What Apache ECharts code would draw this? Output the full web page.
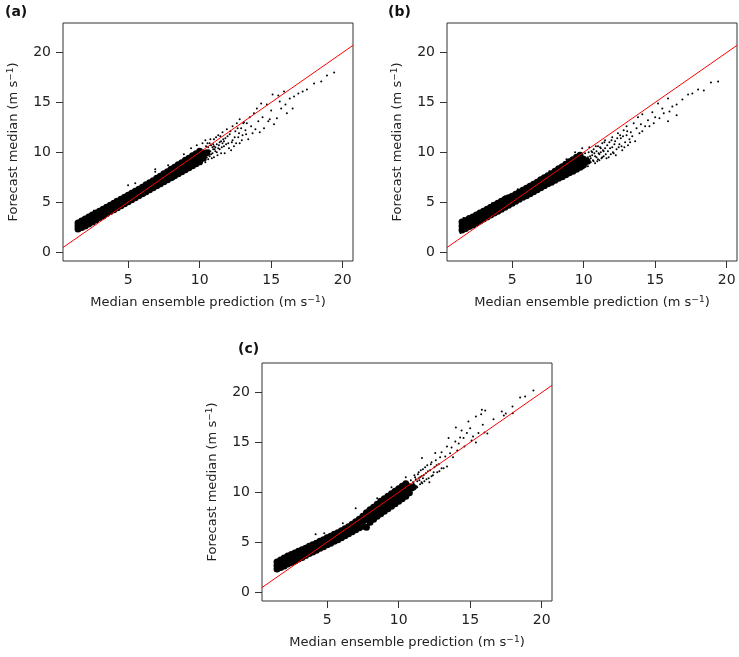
<!DOCTYPE html>
<html lang="en">
<head>
    <meta charset="UTF-8">
    <title>Forecast median vs median ensemble prediction</title>
    <script src="https://cdn.jsdelivr.net/npm/echarts@6/dist/echarts.min.js"></script>
    <style>
        body { margin: 0; background: #fff; }
        #chart { width: 739px; height: 657px; }
    </style>
</head>
<body>
    <div id="chart"></div>
    <script>
        // axis limits and ticks (same for all three panels)
        const xLimits = [0.45, 20.72];
        const yLimits = [-0.9, 22.96];
        const xTicks = [5, 10, 15, 20];
        const yTicks = [0, 5, 10, 15, 20];
        const panelLabels = ['(a)', '(b)', '(c)'];

        // dense part of each cloud: [x, y1, y2, ...]
        const coreA = [
            [1.5, 2.3, 2.6, 2.9], [1.75, 2.45, 2.8, 3.1], [2.0, 2.6, 2.95, 3.3], [2.25, 2.8, 3.15, 3.5],
            [2.5, 3.0, 3.35, 3.7], [2.75, 3.2, 3.55, 3.9], [3.0, 3.45, 3.75, 4.1], [3.25, 3.6, 3.95, 4.3],
            [3.5, 3.85, 4.15, 4.5], [3.75, 4.05, 4.4, 4.7], [4.0, 4.25, 4.6, 4.9], [4.25, 4.45, 4.8, 5.1],
            [4.5, 4.65, 5.0, 5.3], [4.75, 4.85, 5.2, 5.5], [5.0, 5.05, 5.4, 5.7], [5.25, 5.25, 5.6, 5.9],
            [5.5, 5.45, 5.8, 6.1], [5.75, 5.65, 6.0, 6.3], [6.0, 5.85, 6.2, 6.5], [6.25, 6.05, 6.4, 6.75],
            [6.5, 6.25, 6.6, 6.95], [6.75, 6.45, 6.8, 7.15], [7.0, 6.65, 7.0, 7.4], [7.25, 6.85, 7.2, 7.6],
            [7.5, 7.05, 7.45, 7.85], [7.75, 7.25, 7.65, 8.05], [8.0, 7.45, 7.85, 8.3], [8.25, 7.65, 8.05, 8.5],
            [8.5, 7.85, 8.3, 8.75], [8.75, 8.05, 8.5, 8.95], [9.0, 8.25, 8.7, 9.2], [9.25, 8.45, 8.9, 9.4],
            [9.5, 8.65, 9.1, 9.65], [9.75, 8.85, 9.35, 9.85], [10.0, 9.05, 9.55, 10.1], [10.25, 9.4, 9.9],
            [10.5, 9.95]
        ];
        const coreB = [
            [1.5, 2.2, 2.6, 3.0], [1.75, 2.35, 2.75, 3.15], [2.0, 2.55, 2.95, 3.35], [2.25, 2.7, 3.1, 3.5],
            [2.5, 2.9, 3.3, 3.7], [2.75, 3.1, 3.5, 3.9], [3.0, 3.3, 3.7, 4.1], [3.25, 3.5, 3.9, 4.3],
            [3.5, 3.7, 4.1, 4.5], [3.75, 3.9, 4.3, 4.7], [4.0, 4.1, 4.5, 4.9], [4.25, 4.3, 4.7, 5.1],
            [4.5, 4.5, 4.9, 5.3], [4.75, 4.7, 5.1, 5.45], [5.0, 4.9, 5.25, 5.6], [5.25, 5.1, 5.45, 5.8],
            [5.5, 5.3, 5.65, 6.0], [5.75, 5.5, 5.85, 6.2], [6.0, 5.65, 6.05, 6.4], [6.25, 5.85, 6.25, 6.6],
            [6.5, 6.05, 6.45, 6.8], [6.75, 6.25, 6.65, 7.0], [7.0, 6.45, 6.85, 7.25], [7.25, 6.65, 7.05, 7.45],
            [7.5, 6.85, 7.25, 7.65], [7.75, 7.0, 7.45, 7.85], [8.0, 7.2, 7.65, 8.1], [8.25, 7.4, 7.85, 8.35],
            [8.5, 7.55, 8.05, 8.55], [8.75, 7.75, 8.25, 8.8], [9.0, 7.95, 8.45, 9.05], [9.25, 8.1, 8.65, 9.25],
            [9.5, 8.3, 8.85, 9.5], [9.75, 8.5, 9.05, 9.7], [10.0, 8.75, 9.3], [10.25, 9.1]
        ];
        const coreC = [
            [1.5, 2.3, 2.65, 3.0], [1.75, 2.45, 2.85, 3.2], [2.0, 2.6, 3.0, 3.4], [2.25, 2.8, 3.2, 3.6],
            [2.5, 2.95, 3.35, 3.75], [2.75, 3.1, 3.5, 3.9], [3.0, 3.3, 3.7, 4.1], [3.25, 3.45, 3.85, 4.25],
            [3.5, 3.65, 4.05, 4.4], [3.75, 3.85, 4.2, 4.6], [4.0, 4.0, 4.4, 4.75], [4.25, 4.2, 4.55, 4.9],
            [4.5, 4.4, 4.75, 5.1], [4.75, 4.55, 4.9, 5.25], [5.0, 4.75, 5.1, 5.45], [5.25, 4.9, 5.25, 5.6],
            [5.5, 5.1, 5.45, 5.8], [5.75, 5.25, 5.6, 5.95], [6.0, 5.45, 5.8, 6.15], [6.25, 5.65, 6.0, 6.35],
            [6.5, 5.85, 6.2, 6.55], [6.75, 6.05, 6.4, 6.8], [7.0, 6.25, 6.6, 7.05], [7.25, 6.45, 6.85, 7.3],
            [7.5, 6.6, 7.1, 7.6], [7.75, 6.5, 7.3, 7.95], [8.0, 7.0, 7.6, 8.25], [8.25, 7.3, 7.9, 8.5],
            [8.5, 7.6, 8.15, 8.8], [8.75, 7.85, 8.45, 9.1], [9.0, 8.1, 8.7, 9.35], [9.25, 8.35, 8.95, 9.6],
            [9.5, 8.6, 9.2, 9.85], [9.75, 8.85, 9.45, 10.1], [10.0, 9.1, 9.7, 10.35], [10.25, 9.35, 9.95, 10.6],
            [10.5, 9.6, 10.2, 10.85], [10.75, 9.95, 10.55], [11.0, 10.5]
        ];

        // scattered points: [x, y]
        const tailA = [
            [10.6, 9.3], [10.7, 10.9], [10.8, 9.8], [10.9, 10.5], [11.0, 11.3], [11.0, 9.5], [11.1, 10.1], [11.2, 10.8],
            [11.3, 11.7], [11.4, 10.3], [11.5, 11.1], [11.5, 9.9], [11.6, 12.0], [11.7, 10.6], [11.8, 11.4], [11.9, 12.3],
            [12.0, 10.9], [12.1, 11.8], [12.2, 10.2], [12.3, 12.6], [12.3, 11.2], [12.4, 10.6], [12.5, 12.1], [12.6, 12.9],
            [12.7, 11.5], [12.8, 13.3], [12.8, 10.9], [12.9, 12.4], [13.0, 11.7], [13.1, 13.0], [13.2, 12.2], [13.3, 12.9],
            [13.4, 11.3], [13.5, 13.5], [13.6, 12.6], [13.7, 11.9], [13.8, 13.9], [13.9, 12.3], [14.0, 14.4], [14.1, 13.1],
            [14.2, 12.0], [14.3, 14.9], [14.4, 13.5], [14.5, 12.4], [14.7, 14.8], [14.8, 13.1], [14.9, 13.3], [15.0, 14.2],
            [15.1, 15.8], [15.2, 12.8], [15.4, 13.4], [15.5, 15.7], [15.6, 15.1], [15.7, 14.4], [15.9, 16.1], [16.0, 14.8],
            [16.1, 13.9], [16.3, 15.4], [16.5, 14.4], [16.6, 15.6], [16.9, 15.9], [17.2, 16.1], [17.5, 16.3], [18.0, 16.9],
            [18.5, 17.1], [18.9, 17.7], [19.4, 18.0],
            [10.55, 10.9], [10.65, 10.2], [10.75, 11.3], [10.85, 9.4], [10.95, 10.8], [11.05, 10.3], [11.15, 11.5],
            [11.25, 9.7], [11.35, 10.7], [11.45, 11.6], [11.55, 10.5], [11.65, 11.3], [11.75, 9.9], [11.85, 10.8],
            [11.95, 11.6], [12.05, 10.4], [12.15, 12.1], [12.25, 11.0], [12.45, 11.5], [12.55, 10.9], [12.65, 12.4],
            [12.75, 11.9], [12.95, 11.2], [13.05, 12.9], [13.25, 11.8],
            [10.4, 9.2], [10.45, 10.6], [10.5, 9.5], [10.6, 10.5], [10.7, 9.6], [10.75, 10.1], [10.8, 10.7], [10.9, 9.9],
            [10.95, 10.3], [11.0, 10.6], [11.1, 10.5], [11.2, 10.0], [11.3, 10.4], [11.4, 11.0], [11.6, 10.9], [11.7, 11.1],
            [2.6, 4.15], [5.0, 6.7], [5.5, 6.9], [6.9, 8.3], [6.9, 8.06], [3.4, 4.7], [4.1, 5.3], [7.8, 8.7], [8.9, 9.8],
            [9.4, 10.4], [9.8, 10.7], [10.2, 10.9], [10.4, 11.2], [8.2, 7.3], [9.0, 8.0], [9.6, 8.5], [10.1, 8.8], [10.4, 9.0],
            [1.4, 2.4], [1.5, 2.2], [1.7, 2.3], [2.3, 3.75], [3.0, 4.3], [7.3, 6.6], [6.2, 5.75]
        ];
        const tailB = [
            [10.4, 10.5], [10.5, 9.0], [10.6, 9.7], [10.7, 10.3], [10.8, 8.9], [10.9, 9.5], [11.0, 10.6], [11.1, 9.2],
            [11.2, 10.0], [11.3, 10.9], [11.4, 9.6], [11.5, 10.4], [11.5, 11.2], [11.6, 9.4], [11.7, 10.1], [11.8, 11.0],
            [11.9, 9.8], [12.0, 11.5], [12.0, 10.5], [12.1, 9.9], [12.2, 11.1], [12.3, 10.3], [12.4, 11.9], [12.5, 10.8],
            [12.6, 11.4], [12.7, 10.2], [12.8, 12.2], [12.9, 11.0], [13.0, 11.7], [13.0, 12.6], [13.1, 10.7], [13.2, 11.3],
            [13.3, 12.0], [13.4, 11.6], [13.5, 12.9], [13.6, 11.1], [13.7, 12.4], [13.8, 13.5], [13.9, 11.9], [14.0, 12.8],
            [14.1, 12.1], [14.1, 13.8], [14.3, 12.6], [14.5, 13.2], [14.6, 12.6], [14.8, 14.0], [14.9, 12.9], [15.0, 13.5],
            [15.2, 14.9], [15.3, 13.4], [15.5, 14.4], [15.6, 13.9], [15.9, 15.4], [16.0, 14.1], [15.9, 13.1], [16.2, 14.6],
            [16.5, 14.8], [16.5, 13.7], [16.9, 15.3], [17.3, 15.8], [17.6, 15.9], [18.0, 16.3], [18.4, 16.2], [18.9, 17.0],
            [19.4, 17.1],
            [10.45, 9.6], [10.55, 10.1], [10.65, 9.2], [10.75, 9.9], [10.85, 10.6], [10.95, 9.1], [11.05, 9.9],
            [11.15, 10.5], [11.25, 9.4], [11.35, 10.2], [11.45, 11.0], [11.55, 9.8], [11.65, 10.7], [11.75, 9.5],
            [11.85, 10.4], [11.95, 11.2], [12.05, 10.0], [12.15, 10.8], [12.25, 9.7], [12.35, 11.4], [12.45, 10.5],
            [12.55, 11.7], [12.65, 10.6], [12.75, 11.6], [12.85, 10.5], [13.05, 12.1], [13.25, 11.0],
            [10.1, 9.9], [10.2, 8.8], [10.3, 9.5], [10.35, 10.0], [10.4, 8.9], [10.5, 9.4], [10.6, 10.0], [10.7, 9.1],
            [10.8, 9.6], [10.9, 10.1], [11.0, 9.3], [11.1, 9.8], [11.2, 10.4], [11.3, 9.5], [11.4, 10.1],
            [1.4, 1.9], [1.5, 2.1], [1.6, 3.4], [2.2, 3.7], [3.6, 4.9], [4.5, 5.6], [5.4, 6.3], [7.6, 8.1], [8.8, 9.3],
            [9.4, 10.0], [9.9, 10.4], [9.5, 8.1], [9.0, 7.7], [10.0, 8.4], [8.4, 7.3], [10.3, 8.6]
        ];
        const tailC = [
            [11.1, 11.7], [11.2, 10.4], [11.3, 11.1], [11.4, 12.0], [11.5, 10.8], [11.6, 11.6], [11.63, 13.43], [11.7, 12.3],
            [11.8, 11.1], [11.9, 11.9], [12.0, 12.7], [12.1, 11.4], [12.2, 12.2], [12.3, 13.0], [12.4, 11.7], [12.5, 12.5],
            [12.56, 13.93], [12.6, 13.2], [12.7, 12.0], [12.8, 12.8], [12.9, 13.5], [13.0, 12.4], [13.14, 12.42], [13.26, 13.59],
            [13.38, 12.58], [13.38, 14.59], [13.49, 15.43], [13.6, 13.9], [13.7, 14.5], [13.8, 13.5], [13.96, 15.09], [14.1, 14.2],
            [14.2, 14.9], [14.3, 15.5], [14.54, 15.43], [14.6, 14.6], [14.77, 15.93], [14.88, 17.1], [15.0, 16.43], [15.1, 15.2],
            [15.2, 15.6], [15.4, 17.6], [15.58, 15.93], [15.77, 17.83], [15.82, 18.27], [15.88, 16.76], [16.05, 18.2], [16.2, 15.9],
            [16.63, 17.33], [17.21, 18.1], [17.35, 17.7], [17.49, 17.9], [17.96, 18.6], [17.98, 17.93], [18.49, 19.5], [18.84, 19.6],
            [19.42, 20.2], [14.0, 16.5], [14.4, 16.2], [13.0, 14.0], [12.3, 11.6], [15.4, 15.0], [16.0, 16.0],
            [11.05, 10.9], [11.15, 11.5], [11.25, 10.6], [11.35, 11.8], [11.45, 11.2], [11.55, 12.2], [11.65, 10.9],
            [11.75, 11.7], [11.85, 12.5], [11.95, 11.3], [12.05, 12.1], [12.15, 11.0], [12.25, 12.8], [12.45, 12.0],
            [12.65, 12.7], [12.85, 12.1],
            [10.8, 10.0], [10.85, 11.2], [10.9, 10.4], [11.0, 11.0], [11.0, 10.2], [11.1, 10.7], [11.2, 11.3], [11.3, 10.5],
            [11.4, 11.4], [11.5, 11.5], [11.6, 11.0], [11.7, 11.4],
            [4.2, 5.8], [7.0, 8.4], [6.1, 6.9], [4.8, 5.9], [1.4, 2.3], [1.6, 2.2], [7.7, 6.4], [7.6, 6.5], [9.5, 10.5],
            [10.5, 11.5], [8.5, 9.4]
        ];

        // 把 [x, y1, y2, ...] 拆成点
        function expand(rows) {
            const pts = [];
            rows.forEach(r => {
                for (let i = 1; i < r.length; i++) pts.push([r[0], r[i]]);
            });
            return pts;
        }

        const cores = [coreA, coreB, coreC];
        const tails = [tailA, tailB, tailC];
        const grids = [
            { left: 63, top: 23, width: 290, height: 238 },
            { left: 447, top: 23, width: 290, height: 238 },
            { left: 262, top: 363, width: 290, height: 238 }
        ];

        const font = 'DejaVu Sans';
        const textColor = '#222';
        const rich = {
            t: { fontFamily: font, fontSize: 13, color: textColor, lineHeight: 16 },
            s: { fontFamily: font, fontSize: 9, color: textColor, lineHeight: 10, verticalAlign: 'top' }
        };

        const option = {
            animation: false,
            backgroundColor: '#fff',
            title: grids.map((g, i) => ({
                text: panelLabels[i],
                left: i === 0 ? 0 : (i === 1 ? 383 : 233),
                top: i === 2 ? 337 : 0,
                textStyle: { fontFamily: font, fontSize: 14, fontWeight: 'bold', color: '#111' }
            })),
            grid: grids.map(g => Object.assign({
                show: true, borderColor: '#333', borderWidth: 1, backgroundColor: 'transparent'
            }, g)),
            xAxis: grids.map((g, i) => ({
                gridIndex: i,
                type: 'value',
                min: xLimits[0],
                max: xLimits[1],
                axisLine: { show: false, onZero: false },
                axisTick: { show: true, inside: false, length: 7, customValues: xTicks, lineStyle: { color: '#333' } },
                axisLabel: { customValues: xTicks, margin: 12, fontFamily: font, fontSize: 14, color: textColor },
                splitLine: { show: false },
                name: '{t|Median ensemble prediction (m s}{s|−1}{t|)}',
                nameLocation: 'middle',
                nameGap: 34,
                nameTextStyle: { rich: rich }
            })),
            yAxis: grids.map((g, i) => ({
                gridIndex: i,
                type: 'value',
                min: yLimits[0],
                max: yLimits[1],
                axisLine: { show: false, onZero: false },
                axisTick: { show: true, inside: false, length: 7, customValues: yTicks, lineStyle: { color: '#333' } },
                axisLabel: { customValues: yTicks, margin: 12, fontFamily: font, fontSize: 14, color: textColor },
                splitLine: { show: false },
                name: '{t|Forecast median (m s}{s|−1}{t|)}',
                nameLocation: 'middle',
                nameGap: 41,
                nameTextStyle: { rich: rich }
            })),
            series: []
        };

        for (let i = 0; i < 3; i++) {
            option.series.push({
                type: 'scatter', xAxisIndex: i, yAxisIndex: i,
                data: expand(cores[i]),
                symbol: 'circle', symbolSize: 7,
                itemStyle: { color: '#000', opacity: 1 },
                silent: true
            });
            option.series.push({
                type: 'scatter', xAxisIndex: i, yAxisIndex: i,
                data: tails[i],
                symbol: 'circle', symbolSize: 2,
                itemStyle: { color: '#000', opacity: 1 },
                silent: true
            });
            // y = x reference line
            option.series.push({
                type: 'line', xAxisIndex: i, yAxisIndex: i,
                data: [[xLimits[0], xLimits[0]], [xLimits[1], xLimits[1]]],
                symbol: 'none', z: 5,
                lineStyle: { color: '#ff0000', width: 1 },
                silent: true
            });
        }

        const chart = echarts.init(document.getElementById('chart'));
        chart.setOption(option);
    </script>
</body>
</html>
